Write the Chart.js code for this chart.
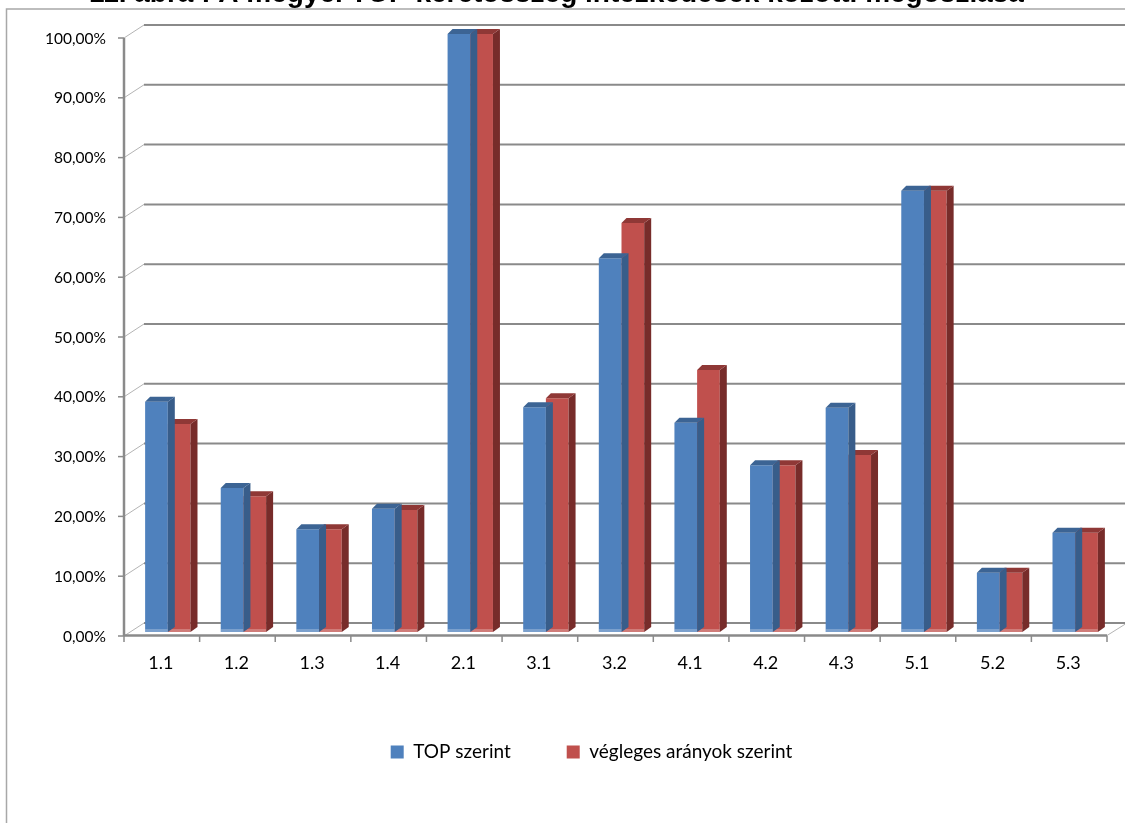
<!DOCTYPE html>
<html>
<head>
<meta charset="utf-8">
<script src="https://cdn.jsdelivr.net/npm/chart.js@4.4.0/dist/chart.umd.min.js"></script>
<style>
html, body { margin: 0; padding: 0; background: #fff; }
</style>
</head>
<body>
<canvas id="chart" width="1125" height="823"></canvas>
<script>
const categories = ["1.1", "1.2", "1.3", "1.4", "2.1", "3.1", "3.2", "4.1", "4.2", "4.3", "5.1", "5.2", "5.3"];
const topSzerint = [38.5, 24.1, 17.2, 20.6, 100, 37.6, 62.5, 35.0, 27.9, 37.5, 73.8, 9.9, 16.6];
const veglegesSzerint = [34.8, 22.7, 17.2, 20.4, 100, 39.1, 68.4, 43.8, 27.9, 29.6, 73.8, 9.9, 16.6];
const yMin = 0;
const yMax = 100;
const yStep = 10;

const fillColors = ["#4f81bd", "#c0504d"];
const sideColors = ["#385d8a", "#772c2a"];
const topColors = ["#3c6494", "#8f3836"];

// fake 3D: walls, floor and bar faces
const box3d = {
    id: "box3d",
    afterLayout(chart) {
        // legend sits a bit right of the canvas centre in the original
        chart.legend.left += 35;
        chart.legend.right += 35;
    },
    beforeDraw(chart) {
        const c = chart.ctx;
        c.save();
        c.fillStyle = "#fff";
        c.fillRect(0, 0, chart.width, chart.height);
        c.strokeStyle = "#a8a8a8";
        c.lineWidth = 1.5;
        c.strokeRect(6.5, 9, chart.width + 20, chart.height + 20);
        c.restore();
    },
    beforeDatasetsDraw(chart) {
        const c = chart.ctx;
        const a = chart.chartArea;
        const y = chart.scales.y;
        const ax = a.left - 6;
        const ex = ax + (a.right - a.left);
        const catW = (a.right - a.left) / categories.length;
        const line = (x1, y1, x2, y2) => {
            c.beginPath();
            c.moveTo(x1, y1);
            c.lineTo(x2, y2);
            c.stroke();
        };
        c.save();
        y.ticks.forEach((t) => {
            const py = y.getPixelForValue(t.value);
            c.strokeStyle = "#8a8a8a";
            c.lineWidth = 2;
            line(ax + 20, py - 9, ex + 25, py - 9);
            c.strokeStyle = "#b4b4b4";
            c.lineWidth = 1;
            line(ax, py + 4, ax + 20, py - 9);
            c.strokeStyle = "#8a8a8a";
            c.lineWidth = 1.5;
            line(ax - 6, py + 4, ax, py + 4);
        });
        const y0 = y.getPixelForValue(yMin);
        c.strokeStyle = "#8a8a8a";
        c.lineWidth = 2.5;
        line(ax, y.getPixelForValue(yMax) + 4, ax, y0 + 4);
        line(ax, y0 + 3.5, ex, y0 + 3.5);
        c.lineWidth = 1.5;
        for (let i = 0; i <= categories.length; i++) {
            line(ax + i * catW, y0 + 3.5, ax + i * catW, y0 + 10);
        }
        c.strokeStyle = "#b4b4b4";
        c.lineWidth = 1;
        line(ex, y0 + 3.5, ex + 20, y0 - 9);
        c.restore();
    },
    afterDatasetDraw(chart, args) {
        const c = chart.ctx;
        const i = args.index;
        const dx = 7;
        const dy = 5;
        c.save();
        args.meta.data.forEach((bar) => {
            const p = bar.getProps(["x", "y", "base", "width"], true);
            const l = p.x - p.width / 2;
            const r = p.x + p.width / 2;
            c.fillStyle = "rgba(255,255,255,0.25)";
            c.fillRect(l, p.base - 3, p.width, 3);
            c.fillStyle = sideColors[i];
            c.beginPath();
            c.moveTo(r, p.y);
            c.lineTo(r + dx, p.y - dy);
            c.lineTo(r + dx, p.base - dy);
            c.lineTo(r, p.base);
            c.closePath();
            c.fill();
            c.fillStyle = topColors[i];
            c.beginPath();
            c.moveTo(l, p.y);
            c.lineTo(l + dx - 2, p.y - dy);
            c.lineTo(r + dx, p.y - dy);
            c.lineTo(r, p.y);
            c.closePath();
            c.fill();
        });
        c.restore();
    },
};

const chart = new Chart(document.getElementById("chart"), {
    type: "bar",
    data: {
        labels: categories,
        datasets: [
            {
                label: "TOP szerint",
                data: topSzerint,
                backgroundColor: fillColors[0],
                borderWidth: 0,
            },
            {
                label: "végleges arányok szerint",
                data: veglegesSzerint,
                backgroundColor: fillColors[1],
                borderWidth: 0,
            },
        ],
    },
    options: {
        responsive: false,
        animation: false,
        devicePixelRatio: 1,
        layout: {
            padding: { left: 0, right: 12, top: 0, bottom: 51.5 },
        },
        datasets: {
            bar: { categoryPercentage: 0.6, barPercentage: 1 },
        },
        plugins: {
            title: {
                display: true,
                text: "11. ábra : A megyei TOP keretösszeg intézkedések közötti megoszlása",
                color: "#000",
                font: { family: "'Liberation Sans', Arial", size: 28, weight: "bold", lineHeight: 1.2 },
                padding: { top: -22.5, bottom: 22.9 },
            },
            legend: {
                position: "bottom",
                labels: {
                    boxWidth: 13,
                    boxHeight: 13,
                    padding: 56,
                    color: "#000",
                    font: { family: "Lato", size: 19 },
                },
            },
            tooltip: { enabled: false },
        },
        scales: {
            x: {
                grid: { display: false, drawTicks: false },
                border: { display: false },
                ticks: {
                    color: "#000",
                    font: { family: "Lato", size: 18 },
                    padding: 20,
                    labelOffset: -7,
                },
                afterFit: (s) => {
                    s.height = 54.5;
                },
            },
            y: {
                min: yMin,
                max: yMax,
                grid: { display: false, drawTicks: false },
                border: { display: false },
                ticks: {
                    stepSize: yStep,
                    color: "#000",
                    font: { family: "Lato", size: 15.5 },
                    padding: 24,
                    labelOffset: 4.5,
                    callback: (v) => v.toFixed(2).replace(".", ",") + "%",
                },
                afterFit: (s) => {
                    s.width = 130;
                },
            },
        },
    },
    plugins: [box3d],
});
</script>
</body>
</html>
